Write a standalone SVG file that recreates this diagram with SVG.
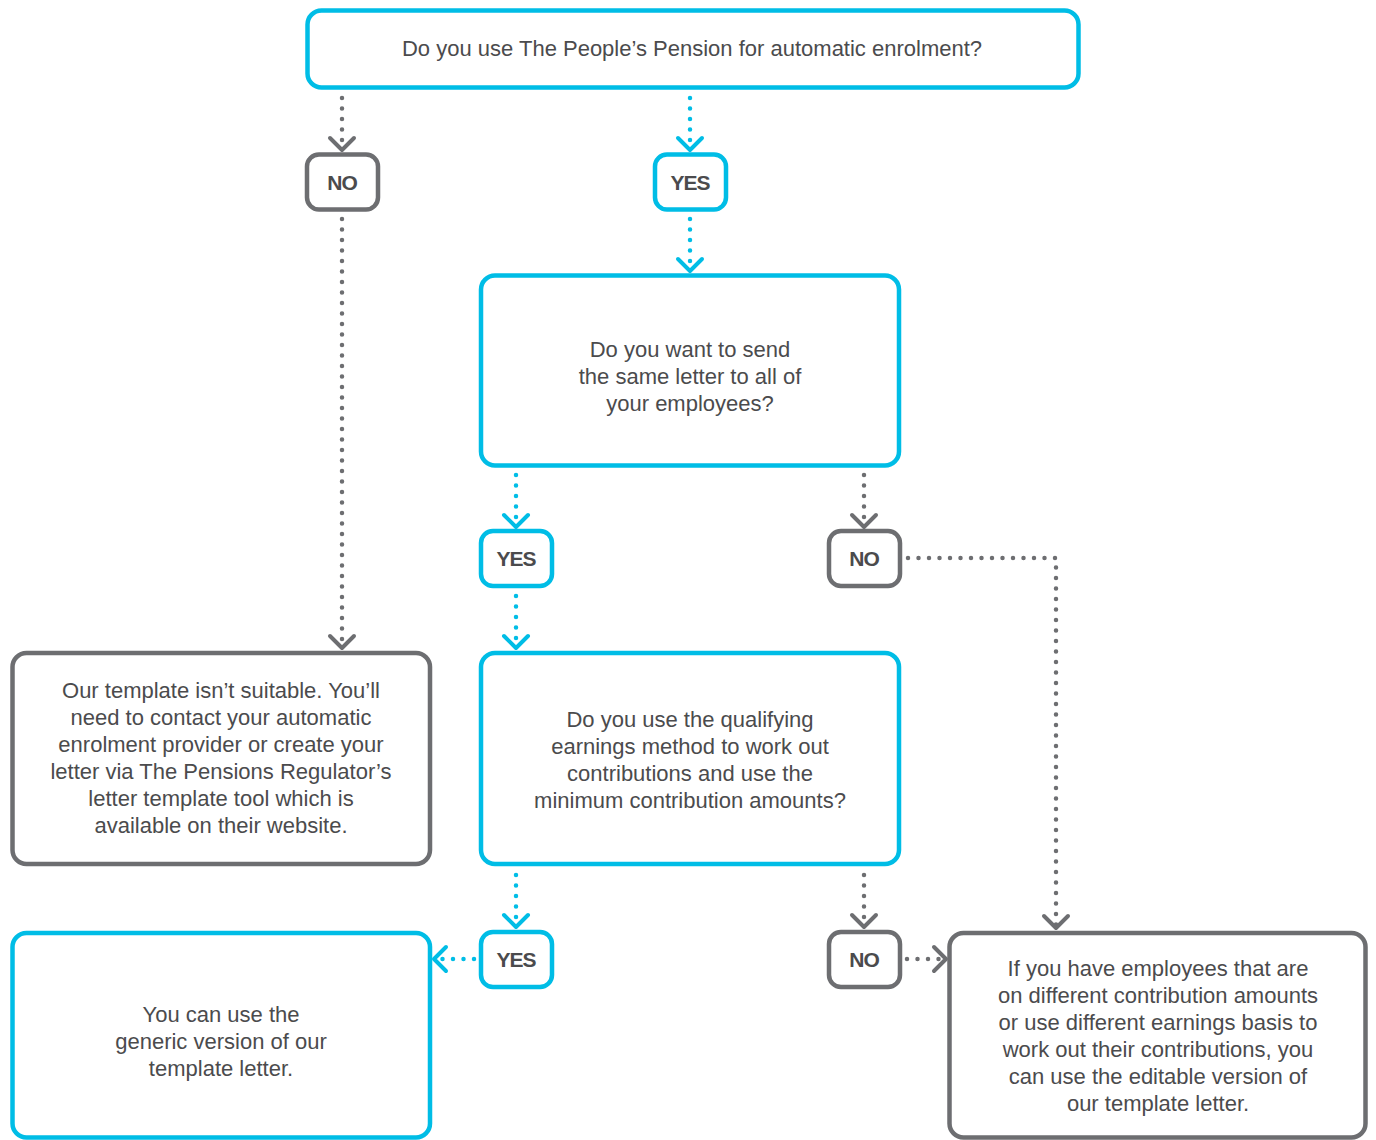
<svg xmlns="http://www.w3.org/2000/svg" width="1376" height="1140" viewBox="0 0 1376 1140">
<defs>
<style>
.bc{fill:#fff;stroke:#00bde6;stroke-width:4.5}
.bg{fill:#fff;stroke:#6d6e71;stroke-width:4.5}
.t{font-family:"Liberation Sans",Arial,sans-serif;font-size:22px;fill:#4b4b4d;text-anchor:middle}
.p{font-family:"Liberation Sans",Arial,sans-serif;font-size:21px;font-weight:bold;fill:#4b4b4d;text-anchor:middle;letter-spacing:-1px}
.lc{fill:none;stroke:#00bde6;stroke-width:4.5;stroke-linecap:round;stroke-dasharray:0 10.5}
.lg{fill:none;stroke:#6d6e71;stroke-width:4.5;stroke-linecap:round;stroke-dasharray:0 10.5}
</style>
<marker id="mc" markerUnits="userSpaceOnUse" markerWidth="40" markerHeight="40" viewBox="-20 -20 40 40" refX="0" refY="0" orient="auto" overflow="visible">
<path d="M-12,-12 L0,0 L-12,12" fill="none" stroke="#00bde6" stroke-width="4" stroke-linecap="round" stroke-linejoin="round"/>
</marker>
<marker id="mg" markerUnits="userSpaceOnUse" markerWidth="40" markerHeight="40" viewBox="-20 -20 40 40" refX="0" refY="0" orient="auto" overflow="visible">
<path d="M-12,-12 L0,0 L-12,12" fill="none" stroke="#6d6e71" stroke-width="4" stroke-linecap="round" stroke-linejoin="round"/>
</marker>
</defs>
<rect width="1376" height="1140" fill="#fff"/>

<g id="connectors">
<path class="lg" d="M342,98 V150" marker-end="url(#mg)"/>
<path class="lc" d="M690,98 V150" marker-end="url(#mc)"/>
<path class="lg" d="M342,219 V648" marker-end="url(#mg)"/>
<path class="lc" d="M690,219 V271" marker-end="url(#mc)"/>
<path class="lc" d="M516,475 V527" marker-end="url(#mc)"/>
<path class="lg" d="M864,475 V527" marker-end="url(#mg)"/>
<path class="lc" d="M516,596 V648" marker-end="url(#mc)"/>
<path class="lg" d="M908,558 H1056 V928" marker-end="url(#mg)"/>
<path class="lc" d="M516,875 V927" marker-end="url(#mc)"/>
<path class="lg" d="M864,875 V927" marker-end="url(#mg)"/>
<path class="lc" d="M474,959 H434" marker-end="url(#mc)"/>
<path class="lg" d="M907,959 H946" marker-end="url(#mg)"/>
</g>

<g id="q1">
<rect class="bc" x="307.5" y="10.5" width="771" height="77" rx="14"/>
<text class="t" x="692" y="56">Do you use The People’s Pension for automatic enrolment?</text>
</g>
<g id="no1">
<rect class="bg" x="307" y="154.5" width="71" height="55" rx="12"/>
<text class="p" x="342" y="190">NO</text>
</g>
<g id="yes1">
<rect class="bc" x="655" y="154.5" width="71" height="55" rx="12"/>
<text class="p" x="690" y="190">YES</text>
</g>
<g id="q2">
<rect class="bc" x="481" y="275.5" width="418" height="190" rx="14"/>
<text class="t" x="690" y="357">Do you want to send</text>
<text class="t" x="690" y="384">the same letter to all of</text>
<text class="t" x="690" y="411">your employees?</text>
</g>
<g id="yes2">
<rect class="bc" x="481" y="531" width="71" height="55" rx="12"/>
<text class="p" x="516" y="566">YES</text>
</g>
<g id="no2">
<rect class="bg" x="829" y="531" width="71" height="55" rx="12"/>
<text class="p" x="864" y="566">NO</text>
</g>
<g id="notsuitable">
<rect class="bg" x="12.5" y="653" width="417.5" height="211" rx="14"/>
<text class="t" x="221" y="698">Our template isn’t suitable. You’ll</text>
<text class="t" x="221" y="725">need to contact your automatic</text>
<text class="t" x="221" y="752">enrolment provider or create your</text>
<text class="t" x="221" y="779">letter via The Pensions Regulator’s</text>
<text class="t" x="221" y="806">letter template tool which is</text>
<text class="t" x="221" y="833">available on their website.</text>
</g>
<g id="q3">
<rect class="bc" x="481" y="653" width="418" height="211" rx="14"/>
<text class="t" x="690" y="727">Do you use the qualifying</text>
<text class="t" x="690" y="754">earnings method to work out</text>
<text class="t" x="690" y="781">contributions and use the</text>
<text class="t" x="690" y="808">minimum contribution amounts?</text>
</g>
<g id="yes3">
<rect class="bc" x="481" y="932" width="71" height="55" rx="12"/>
<text class="p" x="516" y="967">YES</text>
</g>
<g id="no3">
<rect class="bg" x="829" y="932" width="71" height="55" rx="12"/>
<text class="p" x="864" y="967">NO</text>
</g>
<g id="generic">
<rect class="bc" x="12.5" y="933" width="417.5" height="204.5" rx="14"/>
<text class="t" x="221" y="1022">You can use the</text>
<text class="t" x="221" y="1049">generic version of our</text>
<text class="t" x="221" y="1076">template letter.</text>
</g>
<g id="editable">
<rect class="bg" x="949.5" y="933" width="416" height="204.5" rx="14"/>
<text class="t" x="1158" y="976">If you have employees that are</text>
<text class="t" x="1158" y="1003">on different contribution amounts</text>
<text class="t" x="1158" y="1030">or use different earnings basis to</text>
<text class="t" x="1158" y="1057">work out their contributions, you</text>
<text class="t" x="1158" y="1084">can use the editable version of</text>
<text class="t" x="1158" y="1111">our template letter.</text>
</g>
</svg>
